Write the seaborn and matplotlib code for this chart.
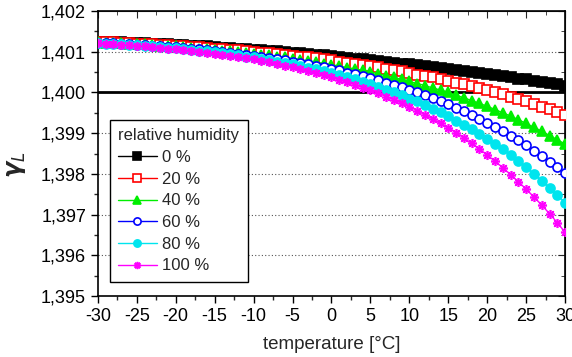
import numpy as np
import pandas as pd
import matplotlib
matplotlib.use("Agg")
import matplotlib.pyplot as plt
from matplotlib.ticker import MultipleLocator, FuncFormatter
import seaborn as sns

# temperature axis (one point per degree)
temperature = list(range(-30, 31))

# readings for each relative humidity
hum_0 = [1.40125, 1.40124, 1.40124, 1.40123, 1.40122, 1.40122, 1.40121, 1.40120, 1.40119, 1.40118,
         1.40117, 1.40116, 1.40115, 1.40114, 1.40113, 1.40112, 1.40110, 1.40109, 1.40108, 1.40106,
         1.40105, 1.40104, 1.40102, 1.40101, 1.40099, 1.40098, 1.40096, 1.40094, 1.40093, 1.40091,
         1.40089, 1.40087, 1.40085, 1.40083, 1.40081, 1.40080, 1.40077, 1.40075, 1.40073, 1.40071,
         1.40069, 1.40067, 1.40065, 1.40062, 1.40060, 1.40058, 1.40055, 1.40053, 1.40050, 1.40048,
         1.40045, 1.40042, 1.40040, 1.40037, 1.40034, 1.40032, 1.40029, 1.40026, 1.40023, 1.40020,
         1.40017]
hum_20 = [1.40124, 1.40123, 1.40123, 1.40122, 1.40121, 1.40120, 1.40119, 1.40118, 1.40117, 1.40116,
          1.40115, 1.40114, 1.40112, 1.40111, 1.40110, 1.40108, 1.40107, 1.40105, 1.40104, 1.40102,
          1.40100, 1.40098, 1.40096, 1.40094, 1.40092, 1.40090, 1.40088, 1.40086, 1.40084, 1.40081,
          1.40079, 1.40076, 1.40073, 1.40071, 1.40068, 1.40065, 1.40062, 1.40058, 1.40055, 1.40052,
          1.40048, 1.40044, 1.40041, 1.40037, 1.40033, 1.40029, 1.40024, 1.40020, 1.40015, 1.40010,
          1.40005, 1.40000, 1.39995, 1.39989, 1.39984, 1.39978, 1.39972, 1.39965, 1.39959, 1.39952,
          1.39945]
hum_40 = [1.40123, 1.40122, 1.40122, 1.40121, 1.40120, 1.40119, 1.40118, 1.40117, 1.40115, 1.40114,
          1.40113, 1.40111, 1.40110, 1.40108, 1.40107, 1.40105, 1.40103, 1.40101, 1.40099, 1.40097,
          1.40095, 1.40093, 1.40091, 1.40088, 1.40086, 1.40083, 1.40080, 1.40078, 1.40075, 1.40071,
          1.40068, 1.40065, 1.40061, 1.40058, 1.40054, 1.40050, 1.40046, 1.40041, 1.40037, 1.40032,
          1.40027, 1.40022, 1.40017, 1.40011, 1.40006, 1.40000, 1.39993, 1.39987, 1.39980, 1.39973,
          1.39966, 1.39958, 1.39950, 1.39942, 1.39933, 1.39924, 1.39914, 1.39905, 1.39894, 1.39884,
          1.39873]
hum_60 = [1.40122, 1.40122, 1.40121, 1.40120, 1.40118, 1.40117, 1.40116, 1.40115, 1.40114, 1.40112,
          1.40111, 1.40109, 1.40107, 1.40106, 1.40104, 1.40102, 1.40100, 1.40098, 1.40095, 1.40093,
          1.40090, 1.40088, 1.40085, 1.40082, 1.40079, 1.40076, 1.40073, 1.40069, 1.40066, 1.40062,
          1.40058, 1.40054, 1.40049, 1.40045, 1.40040, 1.40035, 1.40030, 1.40024, 1.40019, 1.40013,
          1.40006, 1.40000, 1.39993, 1.39986, 1.39978, 1.39971, 1.39962, 1.39954, 1.39945, 1.39936,
          1.39926, 1.39916, 1.39905, 1.39894, 1.39882, 1.39870, 1.39857, 1.39844, 1.39830, 1.39816,
          1.39801]
hum_80 = [1.40122, 1.40120, 1.40119, 1.40118, 1.40117, 1.40116, 1.40115, 1.40113, 1.40112, 1.40110,
          1.40109, 1.40107, 1.40105, 1.40103, 1.40101, 1.40099, 1.40096, 1.40094, 1.40091, 1.40088,
          1.40086, 1.40082, 1.40079, 1.40076, 1.40073, 1.40069, 1.40065, 1.40061, 1.40057, 1.40052,
          1.40048, 1.40043, 1.40037, 1.40032, 1.40026, 1.40020, 1.40014, 1.40007, 1.40000, 1.39993,
          1.39985, 1.39978, 1.39969, 1.39960, 1.39951, 1.39942, 1.39931, 1.39921, 1.39910, 1.39898,
          1.39886, 1.39873, 1.39860, 1.39846, 1.39831, 1.39816, 1.39800, 1.39783, 1.39766, 1.39748,
          1.39729]
hum_100 = [1.40121, 1.40120, 1.40118, 1.40117, 1.40116, 1.40115, 1.40113, 1.40112, 1.40110, 1.40108,
           1.40106, 1.40104, 1.40102, 1.40100, 1.40098, 1.40095, 1.40093, 1.40090, 1.40087, 1.40084,
           1.40081, 1.40077, 1.40074, 1.40070, 1.40066, 1.40062, 1.40057, 1.40053, 1.40048, 1.40042,
           1.40037, 1.40031, 1.40025, 1.40019, 1.40012, 1.40005, 1.39998, 1.39990, 1.39982, 1.39974,
           1.39965, 1.39955, 1.39945, 1.39935, 1.39924, 1.39913, 1.39901, 1.39888, 1.39875, 1.39861,
           1.39846, 1.39831, 1.39815, 1.39798, 1.39781, 1.39762, 1.39743, 1.39723, 1.39702, 1.39680,
           1.39656]

labels = ["0 %", "20 %", "40 %", "60 %", "80 %", "100 %"]
series = [hum_0, hum_20, hum_40, hum_60, hum_80, hum_100]
colors = ["#000000", "#ff0000", "#00ee00", "#0000ff", "#00e5ee", "#ff00ff"]
markers = ["s", "s", "^", "o", "o", (8, 2, 0)]
filled = [True, False, True, False, True, True]

rows = []
for lab, vals in zip(labels, series):
    for t, v in zip(temperature, vals):
        rows.append({"temperature": t, "value": v, "humidity": lab})
df = pd.DataFrame(rows)

sns.set_style("ticks")
plt.rcParams["font.family"] = ["Liberation Sans", "DejaVu Sans"]
plt.rcParams["axes.unicode_minus"] = False

fig = plt.figure(figsize=(5.72, 3.57), dpi=100)
ax = fig.add_axes([0.171, 0.171, 0.817, 0.798])

# grid lines and the 1,400 reference line
for g in [1.396, 1.397, 1.398, 1.399, 1.401]:
    ax.axhline(g, color="#555555", lw=0.8, ls=(0, (1, 2)), zorder=0)
ax.axhline(1.400, color="black", lw=2, zorder=1)

for lab, col, mk, fl in zip(labels, colors, markers, filled):
    sub = df[df["humidity"] == lab]
    sns.lineplot(data=sub, x="temperature", y="value", ax=ax, color=col, lw=1,
                 marker=mk, markersize=6.5 if mk != "^" else 7,
                 markerfacecolor=col if fl else "white",
                 markeredgecolor=col, markeredgewidth=1.2,
                 label=lab, zorder=3)

ax.set_xlim(-30, 30)
ax.set_ylim(1.395, 1.402)
ax.xaxis.set_major_locator(MultipleLocator(5))
ax.xaxis.set_minor_locator(MultipleLocator(2.5))
ax.yaxis.set_major_locator(MultipleLocator(0.001))
ax.yaxis.set_minor_locator(MultipleLocator(0.0005))
ax.yaxis.set_major_formatter(FuncFormatter(lambda v, p: f"{v:.3f}".replace(".", ",")))
ax.tick_params(which="major", direction="out", length=5, width=1, labelsize=13, colors="black")
ax.tick_params(which="minor", direction="out", length=3, width=1)
for s in ax.spines.values():
    s.set_linewidth(1.2)
    s.set_color("black")

# inward ticks on the top and right frame
top = ax.secondary_xaxis("top")
top.xaxis.set_major_locator(MultipleLocator(5))
top.xaxis.set_minor_locator(MultipleLocator(2.5))
top.tick_params(which="both", direction="in", labeltop=False)
top.tick_params(which="major", length=5)
top.tick_params(which="minor", length=3)
right = ax.secondary_yaxis("right")
right.yaxis.set_major_locator(MultipleLocator(0.001))
right.yaxis.set_minor_locator(MultipleLocator(0.0005))
right.tick_params(which="both", direction="in", labelright=False)
right.tick_params(which="major", length=5)
right.tick_params(which="minor", length=3)

ax.set_xlabel("temperature [°C]", fontsize=13.5, labelpad=8)
ax.set_ylabel(r"$\boldsymbol{\gamma}_L$", fontsize=17, labelpad=14)
ax.yaxis.set_label_coords(-0.15, 0.46)

leg = ax.legend(title="relative humidity", loc="lower left", bbox_to_anchor=(0.026, 0.05),
                borderaxespad=0, fancybox=False, edgecolor="black", framealpha=1,
                fontsize=12, title_fontsize=12, handlelength=2.3, handletextpad=0.3,
                labelspacing=0.4, alignment="left", borderpad=0.5, markerscale=0.8)
leg.get_frame().set_linewidth(1)

fig.savefig("out.png", dpi=100)
